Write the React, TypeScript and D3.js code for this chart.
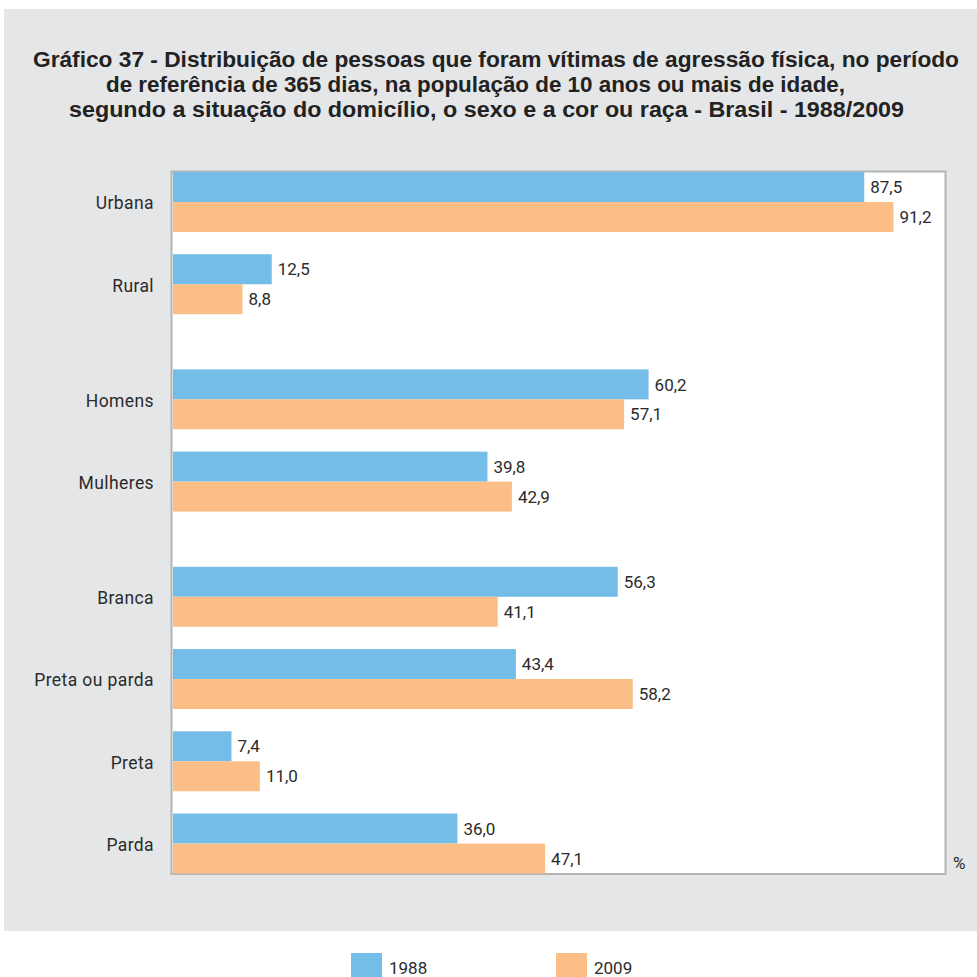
import React from "react";
import * as d3 from "d3";

const categories = ["Urbana", "Rural", "Homens", "Mulheres", "Branca", "Preta ou parda", "Preta", "Parda"];
const groups = [0, 0, 1, 1, 2, 2, 2, 2];
const values1988 = [87.5, 12.5, 60.2, 39.8, 56.3, 43.4, 7.4, 36.0];
const values2009 = [91.2, 8.8, 57.1, 42.9, 41.1, 58.2, 11.0, 47.1];
const seriesNames = ["1988", "2009"];
const titleLines = [
  "Gráfico 37 - Distribuição de pessoas que foram vítimas de agressão física, no período",
  "de referência de 365 dias, na população de 10 anos ou mais de idade,",
  "segundo a situação do domicílio, o sexo e a cor ou raça - Brasil - 1988/2009",
];

const W = 977;
const H = 977;
const BLUE = "#74bde8";
const ORANGE = "#fbbe87";
const TEXT = "#2b2b2b";
const FONT = "Roboto, 'Liberation Sans', Arial, sans-serif";

export default function App() {
  const plotLeft = 172;
  const plotRight = 945;
  const plotTop = 172;
  const plotBottom = 873.5;

  const x = d3.scaleLinear().domain([0, 100]).range([173, 173 + 790]);
  const GAP = 0.4;
  const PAIR = 0.729;
  const slot = d3
    .scaleLinear()
    .domain([0, 7 + 2 * GAP + PAIR])
    .range([plotTop, plotBottom]);
  const unit = slot(1) - slot(0);
  const barH = (unit * PAIR) / 2;
  const yTop = (i: number) => slot(i + groups[i] * GAP);

  const titleSpecs = [
    { x: 33, w: 926, y: 67 },
    { x: 106, w: 739, y: 92 },
    { x: 69, w: 835, y: 117 },
  ];

  const fmt = (v: number) => v.toFixed(1).replace(".", ",");
  const series = [values1988, values2009];
  const colors = [BLUE, ORANGE];

  return (
    <svg
      width={W}
      height={H}
      style={{ position: "absolute", left: 0, top: 0, background: "#fff" }}
    >
      <rect x={4} y={9} width={W - 4} height={922} fill="#e5e6e8" />
      {titleLines.map((t, i) => (
        <text
          key={i}
          x={titleSpecs[i].x}
          y={titleSpecs[i].y}
          textLength={titleSpecs[i].w}
          lengthAdjust="spacingAndGlyphs"
          fontFamily="'Liberation Sans', Arial, sans-serif"
          fontWeight="bold"
          fontSize={22.5}
          fill="#222"
        >
          {t}
        </text>
      ))}
      <rect
        x={plotLeft - 0.5}
        y={plotTop - 0.5}
        width={plotRight - plotLeft + 1}
        height={plotBottom - plotTop + 1}
        fill="#fff"
        stroke="#b3b4b6"
        strokeWidth={2}
      />
      {categories.map((c, i) => (
        <g key={c}>
          {series.map((vals, s) => {
            const y0 = yTop(i) + s * barH;
            return (
              <g key={s}>
                <rect
                  x={x(0)}
                  y={y0}
                  width={x(vals[i]) - x(0)}
                  height={barH}
                  fill={colors[s]}
                />
                <text
                  x={x(vals[i]) + 6}
                  y={y0 + barH / 2}
                  dy="0.36em"
                  fontFamily={FONT}
                  fontSize={17}
                  fill={TEXT}
                >
                  {fmt(vals[i])}
                </text>
              </g>
            );
          })}
          <text
            x={154}
            y={yTop(i) + barH + 1}
            dy="0.36em"
            textAnchor="end"
            fontFamily={FONT}
            fontSize={17.5}
            letterSpacing={0.4}
            fill={TEXT}
          >
            {c}
          </text>
        </g>
      ))}
      <text x={953} y={869} fontFamily={FONT} fontSize={17} fill={TEXT}>
        %
      </text>
      {seriesNames.map((n, s) => {
        const lx = [351, 556][s];
        return (
          <g key={n}>
            <rect x={lx} y={953} width={31} height={31} fill={colors[s]} />
            <text x={lx + 38} y={974} fontFamily={FONT} fontSize={17} fill={TEXT}>
              {n}
            </text>
          </g>
        );
      })}
    </svg>
  );
}
